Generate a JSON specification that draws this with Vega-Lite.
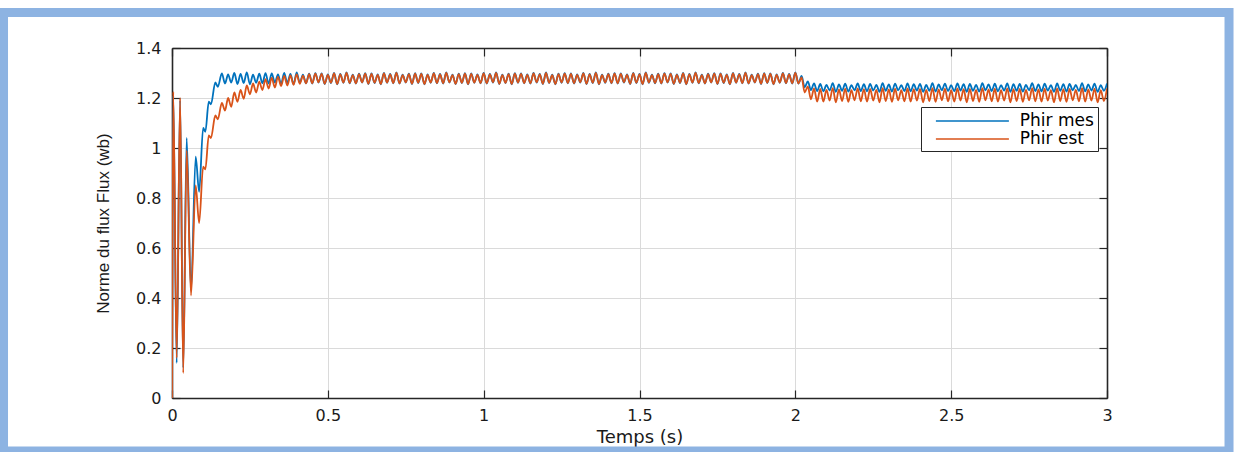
{
"$schema": "https://vega.github.io/schema/vega-lite/v6.json",
"width": 935, "height": 350,
"autosize": {"type": "none"},
"padding": {"left": 172, "top": 48, "right": 127, "bottom": 54},
"background": "white",
"data": {"values": [
{"t":0,"m":0,"e":0},{"t":0.004,"m":1.21,"e":1.225},{"t":0.015,"m":0.14,"e":0.16},{"t":0.026,"m":1.19,"e":1.2},{"t":0.036,"m":0.12,"e":0.1},{"t":0.047,"m":1.04,"e":0.99},{"t":0.061,"m":0.43,"e":0.41},{"t":0.076,"m":0.965,"e":0.85},{"t":0.087,"m":0.825,"e":0.7},{"t":0.1,"m":1.08,"e":0.925},{"t":0.107,"m":1.065,"e":0.915},{"t":0.118,"m":1.185,"e":1.05},{"t":0.125,"m":1.175,"e":1.04},{"t":0.139,"m":1.262,"e":1.13},{"t":0.147,"m":1.245,"e":1.115},
{"t":0.16,"m":1.298,"e":1.18},{"t":0.17,"m":1.258,"e":1.15},{"t":0.18,"m":1.294,"e":1.2},{"t":0.19,"m":1.262,"e":1.165},{"t":0.2,"m":1.3,"e":1.222},{"t":0.21,"m":1.256,"e":1.185},{"t":0.22,"m":1.296,"e":1.232},{"t":0.23,"m":1.26,"e":1.197},{"t":0.24,"m":1.302,"e":1.25},{"t":0.25,"m":1.255,"e":1.215},{"t":0.26,"m":1.293,"e":1.258},{"t":0.27,"m":1.261,"e":1.222},{"t":0.28,"m":1.297,"e":1.265},{"t":0.29,"m":1.259,"e":1.232},{"t":0.3,"m":1.299,"e":1.275},{"t":0.31,"m":1.258,"e":1.238},{"t":0.32,"m":1.298,"e":1.28},{"t":0.33,"m":1.262,"e":1.242},{"t":0.34,"m":1.294,"e":1.284},{"t":0.35,"m":1.256,"e":1.248},{"t":0.36,"m":1.3,"e":1.288},{"t":0.37,"m":1.26,"e":1.25},{"t":0.38,"m":1.296,"e":1.29},{"t":0.39,"m":1.255,"e":1.253},{"t":0.4,"m":1.302,"e":1.294},{"t":0.41,"m":1.261,"e":1.257},{"t":0.42,"m":1.293,"e":1.289},{"t":0.43,"m":1.259,"e":1.259},
{"t":0.44,"m":1.297,"e":1.295},{"t":0.45,"m":1.258,"e":1.259},{"t":0.46,"m":1.299,"e":1.297},{"t":0.47,"m":1.262,"e":1.263},{"t":0.48,"m":1.298,"e":1.296},{"t":0.49,"m":1.256,"e":1.257},{"t":0.5,"m":1.294,"e":1.292},{"t":0.51,"m":1.26,"e":1.261},{"t":0.52,"m":1.3,"e":1.298},{"t":0.53,"m":1.255,"e":1.256},{"t":0.54,"m":1.296,"e":1.294},{"t":0.55,"m":1.261,"e":1.262},{"t":0.56,"m":1.302,"e":1.3},{"t":0.57,"m":1.259,"e":1.26},{"t":0.58,"m":1.293,"e":1.291},{"t":0.59,"m":1.258,"e":1.259},
{"t":0.6,"m":1.297,"e":1.295},{"t":0.61,"m":1.262,"e":1.263},{"t":0.62,"m":1.299,"e":1.297},{"t":0.63,"m":1.256,"e":1.257},{"t":0.64,"m":1.298,"e":1.296},{"t":0.65,"m":1.26,"e":1.261},{"t":0.66,"m":1.294,"e":1.292},{"t":0.67,"m":1.255,"e":1.256},{"t":0.68,"m":1.3,"e":1.298},{"t":0.69,"m":1.261,"e":1.262},{"t":0.7,"m":1.296,"e":1.294},{"t":0.71,"m":1.259,"e":1.26},{"t":0.72,"m":1.302,"e":1.3},{"t":0.73,"m":1.258,"e":1.259},{"t":0.74,"m":1.293,"e":1.291},{"t":0.75,"m":1.262,"e":1.263},{"t":0.76,"m":1.297,"e":1.295},{"t":0.77,"m":1.256,"e":1.257},{"t":0.78,"m":1.299,"e":1.297},{"t":0.79,"m":1.26,"e":1.261},
{"t":0.8,"m":1.298,"e":1.296},{"t":0.81,"m":1.255,"e":1.256},{"t":0.82,"m":1.294,"e":1.292},{"t":0.83,"m":1.261,"e":1.262},{"t":0.84,"m":1.3,"e":1.298},{"t":0.85,"m":1.259,"e":1.26},{"t":0.86,"m":1.296,"e":1.294},{"t":0.87,"m":1.258,"e":1.259},{"t":0.88,"m":1.302,"e":1.3},{"t":0.89,"m":1.262,"e":1.263},{"t":0.9,"m":1.293,"e":1.291},{"t":0.91,"m":1.256,"e":1.257},{"t":0.92,"m":1.297,"e":1.295},{"t":0.93,"m":1.26,"e":1.261},{"t":0.94,"m":1.299,"e":1.297},{"t":0.95,"m":1.255,"e":1.256},{"t":0.96,"m":1.298,"e":1.296},{"t":0.97,"m":1.261,"e":1.262},{"t":0.98,"m":1.294,"e":1.292},{"t":0.99,"m":1.259,"e":1.26},
{"t":1.0,"m":1.3,"e":1.298},{"t":1.01,"m":1.258,"e":1.259},{"t":1.02,"m":1.296,"e":1.294},{"t":1.03,"m":1.262,"e":1.263},{"t":1.04,"m":1.302,"e":1.3},{"t":1.05,"m":1.256,"e":1.257},{"t":1.06,"m":1.293,"e":1.291},{"t":1.07,"m":1.26,"e":1.261},{"t":1.08,"m":1.297,"e":1.295},{"t":1.09,"m":1.255,"e":1.256},{"t":1.1,"m":1.299,"e":1.297},{"t":1.11,"m":1.261,"e":1.262},{"t":1.12,"m":1.298,"e":1.296},{"t":1.13,"m":1.259,"e":1.26},{"t":1.14,"m":1.294,"e":1.292},{"t":1.15,"m":1.258,"e":1.259},{"t":1.16,"m":1.3,"e":1.298},{"t":1.17,"m":1.262,"e":1.263},{"t":1.18,"m":1.296,"e":1.294},{"t":1.19,"m":1.256,"e":1.257},
{"t":1.2,"m":1.302,"e":1.3},{"t":1.21,"m":1.26,"e":1.261},{"t":1.22,"m":1.293,"e":1.291},{"t":1.23,"m":1.255,"e":1.256},{"t":1.24,"m":1.297,"e":1.295},{"t":1.25,"m":1.261,"e":1.262},{"t":1.26,"m":1.299,"e":1.297},{"t":1.27,"m":1.259,"e":1.26},{"t":1.28,"m":1.298,"e":1.296},{"t":1.29,"m":1.258,"e":1.259},{"t":1.3,"m":1.294,"e":1.292},{"t":1.31,"m":1.262,"e":1.263},{"t":1.32,"m":1.3,"e":1.298},{"t":1.33,"m":1.256,"e":1.257},{"t":1.34,"m":1.296,"e":1.294},{"t":1.35,"m":1.26,"e":1.261},{"t":1.36,"m":1.302,"e":1.3},{"t":1.37,"m":1.255,"e":1.256},{"t":1.38,"m":1.293,"e":1.291},{"t":1.39,"m":1.261,"e":1.262},
{"t":1.4,"m":1.297,"e":1.295},{"t":1.41,"m":1.259,"e":1.26},{"t":1.42,"m":1.299,"e":1.297},{"t":1.43,"m":1.258,"e":1.259},{"t":1.44,"m":1.298,"e":1.296},{"t":1.45,"m":1.262,"e":1.263},{"t":1.46,"m":1.294,"e":1.292},{"t":1.47,"m":1.256,"e":1.257},{"t":1.48,"m":1.3,"e":1.298},{"t":1.49,"m":1.26,"e":1.261},{"t":1.5,"m":1.296,"e":1.294},{"t":1.51,"m":1.255,"e":1.256},{"t":1.52,"m":1.302,"e":1.3},{"t":1.53,"m":1.261,"e":1.262},{"t":1.54,"m":1.293,"e":1.291},{"t":1.55,"m":1.259,"e":1.26},{"t":1.56,"m":1.297,"e":1.295},{"t":1.57,"m":1.258,"e":1.259},{"t":1.58,"m":1.299,"e":1.297},{"t":1.59,"m":1.262,"e":1.263},
{"t":1.6,"m":1.298,"e":1.296},{"t":1.61,"m":1.256,"e":1.257},{"t":1.62,"m":1.294,"e":1.292},{"t":1.63,"m":1.26,"e":1.261},{"t":1.64,"m":1.3,"e":1.298},{"t":1.65,"m":1.255,"e":1.256},{"t":1.66,"m":1.296,"e":1.294},{"t":1.67,"m":1.261,"e":1.262},{"t":1.68,"m":1.302,"e":1.3},{"t":1.69,"m":1.259,"e":1.26},{"t":1.7,"m":1.293,"e":1.291},{"t":1.71,"m":1.258,"e":1.259},{"t":1.72,"m":1.297,"e":1.295},{"t":1.73,"m":1.262,"e":1.263},{"t":1.74,"m":1.299,"e":1.297},{"t":1.75,"m":1.256,"e":1.257},{"t":1.76,"m":1.298,"e":1.296},{"t":1.77,"m":1.26,"e":1.261},{"t":1.78,"m":1.294,"e":1.292},{"t":1.79,"m":1.255,"e":1.256},
{"t":1.8,"m":1.3,"e":1.298},{"t":1.81,"m":1.261,"e":1.262},{"t":1.82,"m":1.296,"e":1.294},{"t":1.83,"m":1.259,"e":1.26},{"t":1.84,"m":1.302,"e":1.3},{"t":1.85,"m":1.258,"e":1.259},{"t":1.86,"m":1.293,"e":1.291},{"t":1.87,"m":1.262,"e":1.263},{"t":1.88,"m":1.297,"e":1.295},{"t":1.89,"m":1.256,"e":1.257},{"t":1.9,"m":1.299,"e":1.297},{"t":1.91,"m":1.26,"e":1.261},{"t":1.92,"m":1.298,"e":1.296},{"t":1.93,"m":1.255,"e":1.256},{"t":1.94,"m":1.294,"e":1.292},{"t":1.95,"m":1.261,"e":1.262},{"t":1.96,"m":1.3,"e":1.298},{"t":1.97,"m":1.259,"e":1.26},{"t":1.98,"m":1.296,"e":1.294},{"t":1.99,"m":1.258,"e":1.259},
{"t":2.0,"m":1.302,"e":1.3},{"t":2.01,"m":1.258,"e":1.258},{"t":2.02,"m":1.288,"e":1.282},{"t":2.03,"m":1.243,"e":1.222},{"t":2.04,"m":1.266,"e":1.246},{"t":2.05,"m":1.232,"e":1.195},{"t":2.06,"m":1.258,"e":1.238},{"t":2.07,"m":1.228,"e":1.186},
{"t":2.08,"m":1.256,"e":1.236},{"t":2.09,"m":1.227,"e":1.186},{"t":2.1,"m":1.252,"e":1.232},{"t":2.11,"m":1.23,"e":1.19},{"t":2.12,"m":1.259,"e":1.239},{"t":2.13,"m":1.225,"e":1.183},{"t":2.14,"m":1.254,"e":1.234},{"t":2.15,"m":1.229,"e":1.188},{"t":2.16,"m":1.257,"e":1.237},{"t":2.17,"m":1.226,"e":1.185},{"t":2.18,"m":1.251,"e":1.231},{"t":2.19,"m":1.231,"e":1.191},
{"t":2.2,"m":1.258,"e":1.238},{"t":2.21,"m":1.228,"e":1.187},{"t":2.22,"m":1.255,"e":1.235},{"t":2.23,"m":1.227,"e":1.186},{"t":2.24,"m":1.256,"e":1.236},{"t":2.25,"m":1.23,"e":1.19},{"t":2.26,"m":1.252,"e":1.232},{"t":2.27,"m":1.225,"e":1.183},{"t":2.28,"m":1.259,"e":1.239},{"t":2.29,"m":1.229,"e":1.188},{"t":2.3,"m":1.254,"e":1.234},{"t":2.31,"m":1.226,"e":1.185},{"t":2.32,"m":1.257,"e":1.237},{"t":2.33,"m":1.231,"e":1.191},{"t":2.34,"m":1.251,"e":1.231},{"t":2.35,"m":1.228,"e":1.187},{"t":2.36,"m":1.258,"e":1.238},{"t":2.37,"m":1.227,"e":1.186},{"t":2.38,"m":1.255,"e":1.235},{"t":2.39,"m":1.23,"e":1.19},
{"t":2.4,"m":1.256,"e":1.236},{"t":2.41,"m":1.225,"e":1.183},{"t":2.42,"m":1.252,"e":1.232},{"t":2.43,"m":1.229,"e":1.188},{"t":2.44,"m":1.259,"e":1.239},{"t":2.45,"m":1.226,"e":1.185},{"t":2.46,"m":1.254,"e":1.234},{"t":2.47,"m":1.231,"e":1.191},{"t":2.48,"m":1.257,"e":1.237},{"t":2.49,"m":1.228,"e":1.187},{"t":2.5,"m":1.251,"e":1.231},{"t":2.51,"m":1.227,"e":1.186},{"t":2.52,"m":1.258,"e":1.238},{"t":2.53,"m":1.23,"e":1.19},{"t":2.54,"m":1.255,"e":1.235},{"t":2.55,"m":1.225,"e":1.183},{"t":2.56,"m":1.256,"e":1.236},{"t":2.57,"m":1.229,"e":1.188},{"t":2.58,"m":1.252,"e":1.232},{"t":2.59,"m":1.226,"e":1.185},
{"t":2.6,"m":1.259,"e":1.239},{"t":2.61,"m":1.231,"e":1.191},{"t":2.62,"m":1.254,"e":1.234},{"t":2.63,"m":1.228,"e":1.187},{"t":2.64,"m":1.257,"e":1.237},{"t":2.65,"m":1.227,"e":1.186},{"t":2.66,"m":1.251,"e":1.231},{"t":2.67,"m":1.23,"e":1.19},{"t":2.68,"m":1.258,"e":1.238},{"t":2.69,"m":1.225,"e":1.183},{"t":2.7,"m":1.255,"e":1.235},{"t":2.71,"m":1.229,"e":1.188},{"t":2.72,"m":1.256,"e":1.236},{"t":2.73,"m":1.226,"e":1.185},{"t":2.74,"m":1.252,"e":1.232},{"t":2.75,"m":1.231,"e":1.191},{"t":2.76,"m":1.259,"e":1.239},{"t":2.77,"m":1.228,"e":1.187},{"t":2.78,"m":1.254,"e":1.234},{"t":2.79,"m":1.227,"e":1.186},
{"t":2.8,"m":1.257,"e":1.237},{"t":2.81,"m":1.23,"e":1.19},{"t":2.82,"m":1.251,"e":1.231},{"t":2.83,"m":1.225,"e":1.183},{"t":2.84,"m":1.258,"e":1.238},{"t":2.85,"m":1.229,"e":1.188},{"t":2.86,"m":1.255,"e":1.235},{"t":2.87,"m":1.226,"e":1.185},{"t":2.88,"m":1.256,"e":1.236},{"t":2.89,"m":1.231,"e":1.191},{"t":2.9,"m":1.252,"e":1.232},{"t":2.91,"m":1.228,"e":1.187},{"t":2.92,"m":1.259,"e":1.239},{"t":2.93,"m":1.227,"e":1.186},{"t":2.94,"m":1.254,"e":1.234},{"t":2.95,"m":1.23,"e":1.19},{"t":2.96,"m":1.257,"e":1.237},{"t":2.97,"m":1.225,"e":1.183},{"t":2.98,"m":1.251,"e":1.231},{"t":2.99,"m":1.229,"e":1.188},{"t":3.0,"m":1.258,"e":1.238}
]},
"layer": [
{
 "data": {"values": [{}]},
 "mark": {"type": "rect", "filled": false, "stroke": "#8DB3E2", "strokeWidth": 9, "clip": false},
 "encoding": {
  "x": {"datum": -0.5406, "type": "quantitative", "scale": {"domain": [0, 3], "nice": false}, "axis": null},
  "x2": {"datum": 3.3915},
  "y": {"datum": 1.542, "type": "quantitative", "scale": {"domain": [0, 1.4], "nice": false, "zero": false}, "axis": null},
  "y2": {"datum": -0.212}
 }
},
{
 "mark": {"type": "line", "interpolate": "monotone", "strokeWidth": 1.8, "clip": true},
 "encoding": {
  "x": {"field": "t", "type": "quantitative", "scale": {"domain": [0, 3], "nice": false},
        "axis": {"orient": "bottom", "values": [0, 0.5, 1, 1.5, 2, 2.5, 3], "format": "~g", "grid": true, "title": "Temps (s)", "titleFont": "DejaVu Sans", "titleFontSize": 18, "titleY": 39, "titleBaseline": "middle"}},
  "y": {"field": "m", "type": "quantitative", "scale": {"domain": [0, 1.4], "nice": false, "zero": false},
        "axis": {"orient": "left", "values": [0, 0.2, 0.4, 0.6, 0.8, 1, 1.2, 1.4], "format": "~g", "grid": true, "title": "Norme du flux Flux (wb)", "titleFont": "Liberation Sans", "titleFontSize": 17, "titleX": -69, "titleY": 175, "titleAngle": 270, "titleBaseline": "middle", "titleAlign": "center", "labelPadding": 19}},
  "color": {"datum": "Phir mes", "type": "nominal", "scale": {"domain": ["Phir mes", "Phir est"], "range": ["#0072BD", "#D95319"]},
        "legend": {"orient": "none", "legendX": 749, "legendY": 59, "title": null, "symbolType": "M-4,0H4", "symbolSize": 333, "symbolStrokeWidth": 1.5, "labelFontSize": 17, "labelFont": "DejaVu Sans", "labelColor": "#000000", "strokeColor": "#262626", "fillColor": "white", "padding": 4, "rowPadding": 0, "symbolOffset": 37.4, "labelOffset": 37.4}}
 }
},
{
 "mark": {"type": "line", "interpolate": "monotone", "strokeWidth": 1.8, "clip": true},
 "encoding": {
  "x": {"field": "t", "type": "quantitative", "scale": {"domain": [0, 3], "nice": false}, "axis": null},
  "y": {"field": "e", "type": "quantitative", "scale": {"domain": [0, 1.4], "nice": false, "zero": false}, "axis": null},
  "color": {"datum": "Phir est", "type": "nominal"}
 }
},
{
 "mark": {"type": "point", "opacity": 0},
 "encoding": {
  "x": {"field": "t", "type": "quantitative", "scale": {"domain": [0, 3], "nice": false},
        "axis": {"orient": "top", "values": [0, 0.5, 1, 1.5, 2, 2.5, 3], "labels": false, "grid": false, "title": null}},
  "y": {"field": "m", "type": "quantitative", "scale": {"domain": [0, 1.4], "nice": false, "zero": false},
        "axis": {"orient": "right", "values": [0, 0.2, 0.4, 0.6, 0.8, 1, 1.2, 1.4], "labels": false, "grid": false, "title": null}}
 }
}
],
"resolve": {"axis": {"x": "independent", "y": "independent"}},
"config": {
 "view": {"stroke": null},
 "font": "DejaVu Sans",
 "axis": {"domainColor": "#262626", "domainWidth": 1.6, "tickColor": "#262626", "tickWidth": 1.2, "tickSize": -8, "labelFont": "DejaVu Sans", "labelFontSize": 16, "labelColor": "#1a1a1a", "labelFlush": false, "labelPadding": 17, "titleFontWeight": "normal", "titleColor": "#1a1a1a", "gridColor": "#dadada", "gridWidth": 1}
}
}
